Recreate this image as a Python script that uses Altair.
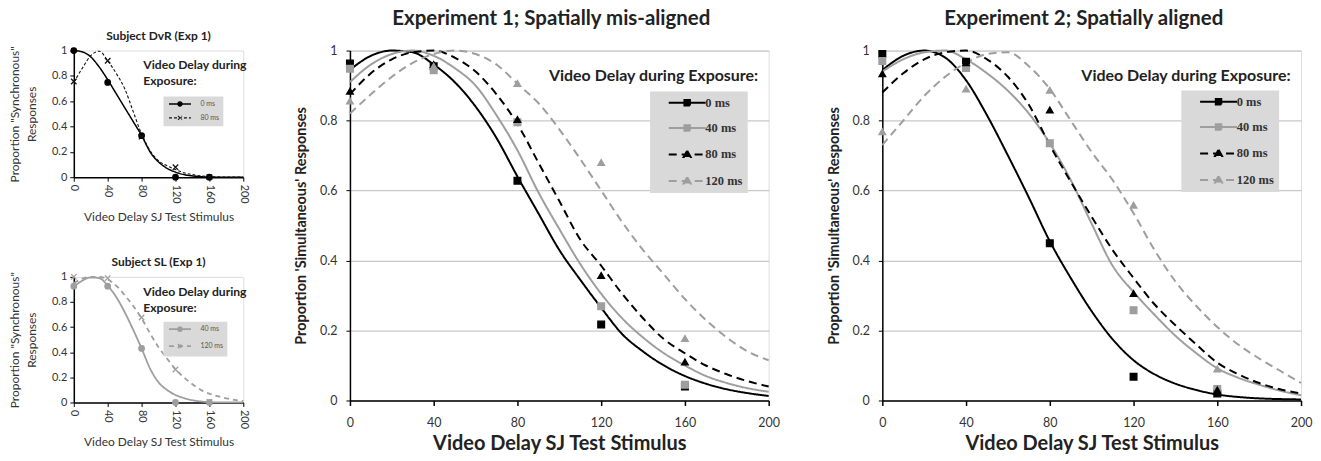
import json
import altair as alt
import pandas as pd

# ---------------- data ----------------
CURVE_X = [0, 10, 20, 30, 40, 50, 60, 70, 80, 90, 100, 110, 120, 130, 140, 150, 160, 170, 180, 190, 200]
POINT_X = [0, 40, 80, 120, 160]
X_TICKS = [0, 40, 80, 120, 160, 200]
Y_TICKS = [0, 0.2, 0.4, 0.6, 0.8, 1]

BIG_SERIES = ["0 ms", "40 ms", "80 ms", "120 ms"]
A_SERIES = ["0 ms", "80 ms"]
B_SERIES = ["40 ms", "120 ms"]

# Experiment 1 (spatially mis-aligned) fitted curves
E1_CURVE_0 = [0.945, 0.985, 1.0, 0.995, 0.96, 0.91, 0.84, 0.75, 0.64, 0.535, 0.43, 0.345, 0.265, 0.19, 0.14, 0.1, 0.07, 0.048, 0.032, 0.021, 0.013]
E1_CURVE_40 = [0.91, 0.96, 0.99, 1.0, 0.985, 0.95, 0.9, 0.815, 0.715, 0.595, 0.49, 0.39, 0.305, 0.235, 0.18, 0.135, 0.1, 0.07, 0.05, 0.035, 0.025]
E1_CURVE_80 = [0.875, 0.935, 0.975, 0.995, 1.0, 0.98, 0.94, 0.875, 0.79, 0.68, 0.57, 0.46, 0.385, 0.305, 0.235, 0.175, 0.135, 0.1, 0.075, 0.055, 0.04]
E1_CURVE_120 = [0.82, 0.875, 0.925, 0.965, 0.99, 1.0, 0.99, 0.96, 0.905, 0.85, 0.775, 0.69, 0.6, 0.51, 0.43, 0.36, 0.29, 0.23, 0.18, 0.14, 0.115]
# Experiment 1 observed data
E1_PTS_0 = [0.963, 0.955, 0.628, 0.217, 0.04]
E1_PTS_40 = [0.948, 0.944, 0.795, 0.269, 0.045]
E1_PTS_80 = [0.884, 0.96, 0.803, 0.357, 0.11]
E1_PTS_120 = [0.856, 0.955, 0.906, 0.68, 0.177]

# Experiment 2 (spatially aligned) fitted curves
E2_CURVE_0 = [0.944, 0.985, 1.0, 0.98, 0.915, 0.815, 0.7, 0.58, 0.455, 0.35, 0.255, 0.175, 0.115, 0.075, 0.048, 0.03, 0.017, 0.01, 0.006, 0.004, 0.003]
E2_CURVE_40 = [0.94, 0.975, 0.995, 1.0, 0.975, 0.935, 0.885, 0.82, 0.735, 0.63, 0.505, 0.385, 0.31, 0.245, 0.185, 0.135, 0.092, 0.065, 0.045, 0.028, 0.015]
E2_CURVE_80 = [0.88, 0.935, 0.975, 0.995, 1.0, 0.975, 0.925, 0.845, 0.73, 0.625, 0.525, 0.43, 0.35, 0.275, 0.215, 0.16, 0.108, 0.075, 0.05, 0.032, 0.02]
E2_CURVE_120 = [0.73, 0.8, 0.87, 0.925, 0.965, 0.99, 0.995, 0.955, 0.89, 0.8, 0.71, 0.63, 0.535, 0.43, 0.34, 0.27, 0.21, 0.16, 0.12, 0.085, 0.05]
# Experiment 2 observed data
E2_PTS_0 = [0.99, 0.968, 0.449, 0.068, 0.02]
E2_PTS_40 = [0.97, 0.95, 0.735, 0.258, 0.033]
E2_PTS_80 = [0.934, 0.965, 0.83, 0.306, 0.03]
E2_PTS_120 = [0.768, 0.89, 0.887, 0.558, 0.09]

# Subject DvR (Exp 1)
A_CURVE_0 = [1.0, 0.99, 0.95, 0.87, 0.77, 0.66, 0.55, 0.44, 0.33, 0.2, 0.12, 0.07, 0.04, 0.02, 0.01, 0.004, 0.0, 0.0, 0.0, 0.0, 0.0]
A_CURVE_80 = [0.75, 0.86, 0.96, 0.995, 0.92, 0.82, 0.7, 0.52, 0.34, 0.21, 0.13, 0.09, 0.06, 0.035, 0.02, 0.01, 0.005, 0.002, 0.0, 0.0, 0.0]
A_PTS_0 = [1.0, 0.748, 0.328, 0.0, 0.0]
A_PTS_80 = [0.756, 0.919, 0.32, 0.079, 0.0]

# Subject SL (Exp 1)
B_CURVE_40 = [0.92, 0.97, 0.995, 0.99, 0.93, 0.84, 0.72, 0.58, 0.43, 0.27, 0.16, 0.1, 0.06, 0.035, 0.018, 0.008, 0.003, 0.0, 0.0, 0.0, 0.0]
B_CURVE_120 = [0.95, 0.985, 1.0, 1.0, 0.98, 0.93, 0.855, 0.77, 0.67, 0.55, 0.44, 0.35, 0.265, 0.2, 0.145, 0.1, 0.07, 0.05, 0.033, 0.02, 0.012]
B_PTS_40 = [0.926, 0.926, 0.43, 0.0, 0.0]
B_PTS_120 = [1.0, 0.99, 0.676, 0.263, 0.005]

TITLE_E1 = "Experiment 1; Spatially mis-aligned"
TITLE_E2 = "Experiment 2; Spatially aligned"
TITLE_A = "Subject DvR (Exp 1)"
TITLE_B = "Subject  SL (Exp 1)"
X_TITLE = "Video Delay SJ Test Stimulus"
Y_TITLE_BIG = "Proportion 'Simultaneous' Responses"
Y_TITLE_SMALL = ["Proportion \"Synchronous\"", "Responses"]
NOTE = "Video Delay during Exposure:"
NOTE_SMALL = "Video Delay during\nExposure:"

# ---------------- styles ----------------
FONT = "Lato"
BLACK = "#000000"
GREY = "#9e9e9e"
LEG_FILL = "#d9d9d9"
SOLID = [1, 0]
NBSP = "\u00a0"

# legend glyphs: line segment + marker (stroked, marker filled)
BIG_SQ = "M-3.7,0H3.7M-0.55,-0.55H0.55V0.55H-0.55Z"
BIG_TRI = "M-3.7,0H3.7M0,-0.75L0.7,0.5H-0.7Z"
SM_CIRCLE = "M-4.4,0H4.4M-0.8,0A0.8,0.8 0 1,1 0.8,0A0.8,0.8 0 1,1 -0.8,0Z"
SM_X = "M-4.4,0H4.4M-0.8,-0.8L0.8,0.8M-0.8,0.8L0.8,-0.8"
XMARK = "M-1,-1L1,1M-1,1L1,-1"

X_SCALE = alt.Scale(domain=[0, 200], nice=False, zero=False)
Y_SCALE = alt.Scale(domain=[0, 1], nice=False)


def long_table(xs, names, lists):
    rows = []
    for name, vals in zip(names, lists):
        for x, v in zip(xs, vals):
            rows.append({"delay": x, "prop": v, "series": name, "ln": name})
    return pd.DataFrame(rows)


def pick(names, a, b):
    test = " || ".join("datum.value === '%s'" % n for n in names)
    return alt.ExprRef(expr="(%s) ? %s : %s" % (test, json.dumps(a), json.dumps(b)))


def point_layers(points, names, colors, shapes, size, x, y):
    out = []
    for name, col, shp in zip(names, colors, shapes):
        out.append(
            alt.Chart(points).transform_filter(alt.datum.series == name)
            .mark_point(filled=True, size=size, opacity=1, shape=shp, color=col,
                        stroke=col, strokeWidth=1.3)
            .encode(x=x, y=y)
        )
    return out


def big_panel(title, curve_lists, point_lists, lx, ly):
    curves = long_table(CURVE_X, BIG_SERIES, curve_lists)
    points = long_table(POINT_X, BIG_SERIES, point_lists)
    colors = [BLACK, GREY, BLACK, GREY]
    dashes = [SOLID, SOLID, [8, 5], [8, 5]]
    shapes = ["square", "square", "triangle-up", "triangle-up"]
    cscale = alt.Scale(domain=BIG_SERIES, range=colors)
    legend = alt.Legend(
        orient="none", legendX=lx, legendY=ly, title=None,
        fillColor=LEG_FILL, padding=5, rowPadding=11.5,
        symbolSize=100, symbolOffset=26, labelOffset=12,
        symbolType=pick(["80 ms", "120 ms"], BIG_TRI, BIG_SQ),
        symbolFillColor=pick(["0 ms", "80 ms"], BLACK, GREY),
        symbolStrokeColor=pick(["0 ms", "80 ms"], BLACK, GREY),
        symbolDash=pick(["80 ms", "120 ms"], [5, 3], SOLID),
        symbolStrokeWidth=2, symbolOpacity=1,
        labelExpr="datum.label + '%s'" % (NBSP * 5),
        labelFont="Liberation Serif", labelFontSize=12.5, labelFontWeight="bold",
        labelColor="#333333",
    )
    xaxis = alt.Axis(values=X_TICKS, tickCount=10, title=X_TITLE, grid=False, tickSize=5,
                     tickColor=BLACK, tickWidth=1.5, domainColor=BLACK, domainWidth=1.5,
                     labelFont=FONT, labelFontSize=12.5, labelColor="#333333", labelPadding=11,
                     labelOverlap=False,
                     titleFont=FONT, titleFontSize=20, titleFontWeight="bold",
                     titleColor="#222222", titlePadding=5, labelFlush=False)
    yaxis = alt.Axis(values=Y_TICKS, tickCount=10, format="~g", title=Y_TITLE_BIG, grid=True,
                     gridColor="#c8c8c8", gridWidth=1.2, tickSize=4, tickColor=BLACK,
                     domainColor=BLACK, domainWidth=1.5, labelOverlap=False,
                     labelFont=FONT, labelFontSize=12.5, labelColor="#333333", labelPadding=9,
                     titleFont=FONT, titleFontSize=14.5, titleFontWeight="bold",
                     titleColor="#222222", titlePadding=11)
    x = alt.X("delay:Q", scale=X_SCALE, axis=xaxis)
    y = alt.Y("prop:Q", scale=Y_SCALE, axis=yaxis)
    lines = alt.Chart(curves).mark_line(interpolate="monotone", strokeWidth=2).encode(
        x=x, y=y,
        color=alt.Color("series:N", scale=cscale, legend=legend),
        strokeDash=alt.StrokeDash("ln:N", scale=alt.Scale(domain=BIG_SERIES, range=dashes), legend=None),
    )
    pts = point_layers(points, BIG_SERIES, colors, shapes, 45, x, y)
    note = alt.Chart(pd.DataFrame({"t": [NOTE]})).mark_text(
        align="right", baseline="middle", font=FONT, fontSize=16, fontWeight="bold", color="#222222"
    ).encode(x=alt.X(datum=195, scale=X_SCALE, axis=xaxis),
             y=alt.Y(datum=0.926, scale=Y_SCALE, axis=yaxis), text="t:N")
    return alt.layer(lines, *pts, note).properties(
        width=420, height=351,
        title=alt.TitleParams(title, font=FONT, fontSize=20.5, fontWeight="bold", color="#222222",
                              offset=15, anchor="middle", dx=-8),
    )


def small_panel(title, names, colors, widths, dashes, shapes, leg_shapes,
                curve_lists, point_lists, lx, ly, height):
    curves = long_table(CURVE_X, names, curve_lists)
    points = long_table(POINT_X, names, point_lists)
    cscale = alt.Scale(domain=names, range=colors)
    legend = alt.Legend(
        orient="none", legendX=lx, legendY=ly, title=None,
        fillColor=LEG_FILL, padding=4, rowPadding=4,
        symbolSize=25, symbolOffset=9, labelOffset=17,
        symbolType=pick([names[1]], leg_shapes[1], leg_shapes[0]),
        symbolFillColor=pick([names[1]], colors[1], colors[0]),
        symbolStrokeColor=pick([names[1]], colors[1], colors[0]),
        symbolDash=pick([names[1]], [3, 2], SOLID),
        symbolStrokeWidth=1.3, symbolOpacity=1,
        labelFont=FONT, labelFontSize=7, labelColor="#555555",
    )
    xaxis = alt.Axis(values=X_TICKS, tickCount=10, title=X_TITLE, grid=False, tickSize=4,
                     labelAngle=90, labelAlign="left", labelBaseline="middle",
                     tickColor=BLACK, domainColor=BLACK, domainWidth=1.5,
                     labelOverlap=False,
                     labelFont=FONT, labelFontSize=11, labelColor="#333333", labelPadding=3,
                     titleFont=FONT, titleFontSize=12, titleFontWeight="normal",
                     titleColor="#333333", titlePadding=8, labelFlush=False)
    yaxis = alt.Axis(values=Y_TICKS, tickCount=10, format="~g", title=Y_TITLE_SMALL, grid=False,
                     tickSize=4, tickColor=BLACK, domainColor=BLACK, domainWidth=1.5,
                     labelOverlap=False,
                     labelFont=FONT, labelFontSize=11, labelColor="#333333", labelPadding=3,
                     titleFont=FONT, titleFontSize=12, titleFontWeight="normal",
                     titleColor="#333333", titlePadding=13, titleLineHeight=17)
    x = alt.X("delay:Q", scale=X_SCALE, axis=xaxis)
    y = alt.Y("prop:Q", scale=Y_SCALE, axis=yaxis)
    lines = alt.Chart(curves).mark_line(interpolate="monotone").encode(
        x=x, y=y,
        color=alt.Color("series:N", scale=cscale, legend=legend),
        strokeDash=alt.StrokeDash("ln:N", scale=alt.Scale(domain=names, range=dashes), legend=None),
        strokeWidth=alt.StrokeWidth("ln:N", scale=alt.Scale(domain=names, range=widths), legend=None),
    )
    pts = point_layers(points, names, colors, shapes, 30, x, y)
    note = alt.Chart(pd.DataFrame({"t": [NOTE_SMALL]})).mark_text(
        align="left", baseline="top", font=FONT, fontSize=12.2, fontWeight="bold", color="#222222",
        lineBreak="\n", lineHeight=16
    ).encode(x=alt.X(datum=82, scale=X_SCALE, axis=xaxis),
             y=alt.Y(datum=0.93, scale=Y_SCALE, axis=yaxis), text="t:N")
    return alt.layer(lines, *pts, note).properties(
        width=170, height=height,
        title=alt.TitleParams(" ", fontSize=7, subtitle=title, subtitleFont=FONT, subtitleFontSize=12,
                              subtitleFontWeight="bold", subtitleColor="#222222", subtitlePadding=2,
                              offset=3, anchor="middle"),
    )


panel_a = small_panel(TITLE_A, A_SERIES, [BLACK, "#111111"], [1.5, 1.1], [SOLID, [3, 2]],
                      ["circle", XMARK], [SM_CIRCLE, SM_X],
                      [A_CURVE_0, A_CURVE_80], [A_PTS_0, A_PTS_80], 90, 46, 127)
panel_b = small_panel(TITLE_B, B_SERIES, [GREY, GREY], [1.8, 1.8], [SOLID, [5, 4]],
                      ["circle", XMARK], [SM_CIRCLE, SM_X],
                      [B_CURVE_40, B_CURVE_120], [B_PTS_40, B_PTS_120], 90, 45, 126)

RES_SCALE = dict(color="independent", strokeDash="independent", strokeWidth="independent")
RES_LEG = dict(color="independent", strokeDash="independent", strokeWidth="independent")

left = alt.vconcat(panel_a, panel_b, spacing=24).resolve_scale(**RES_SCALE).resolve_legend(**RES_LEG)

mid = big_panel(TITLE_E1, [E1_CURVE_0, E1_CURVE_40, E1_CURVE_80, E1_CURVE_120],
                [E1_PTS_0, E1_PTS_40, E1_PTS_80, E1_PTS_120], 301, 41)
right = big_panel(TITLE_E2, [E2_CURVE_0, E2_CURVE_40, E2_CURVE_80, E2_CURVE_120],
                  [E2_PTS_0, E2_PTS_40, E2_PTS_80, E2_PTS_120], 300, 40)

inner = alt.hconcat(left, mid, spacing=43).resolve_scale(**RES_SCALE).resolve_legend(**RES_LEG)

chart = alt.hconcat(inner, right, spacing=45).resolve_scale(**RES_SCALE).resolve_legend(
    **RES_LEG
).properties(padding=0).configure_view(strokeWidth=0).configure_axis(
    labelOverlap=False
).configure(background="white")

chart.save("out.html", embed_options={"renderer": "svg", "actions": False})
